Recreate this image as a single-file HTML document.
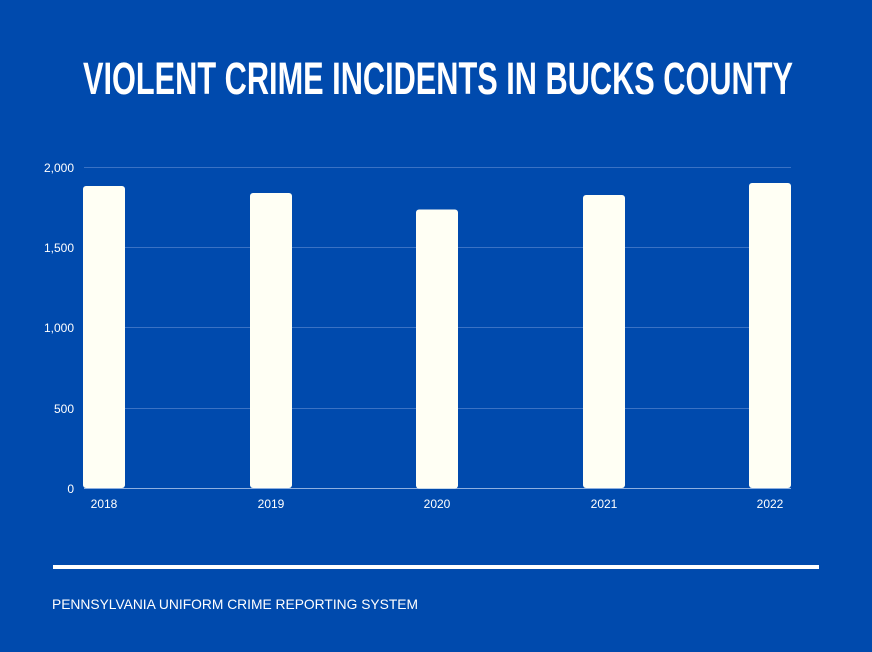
<!DOCTYPE html>
<html><head><style>
html,body{margin:0;padding:0;background:#004aad;}
</style></head><body>
<svg width="872" height="652" viewBox="0 0 872 652" xmlns="http://www.w3.org/2000/svg" style="display:block">
<rect width="872" height="652" fill="#004aad"/>
<text x="83" y="94" textLength="710" lengthAdjust="spacingAndGlyphs" font-family="Liberation Sans Narrow, Liberation Sans, sans-serif" font-weight="bold" font-size="45" fill="#fff">VIOLENT CRIME INCIDENTS IN BUCKS COUNTY</text>
<g stroke="#3a72c4" stroke-width="1">
<line x1="84" y1="167.5" x2="791" y2="167.5"/>
<line x1="84" y1="247.5" x2="791" y2="247.5"/>
<line x1="84" y1="327.5" x2="791" y2="327.5"/>
<line x1="84" y1="408.5" x2="791" y2="408.5"/>
</g>
<line x1="84" y1="488.5" x2="791" y2="488.5" stroke="#8fb0e0" stroke-width="1"/>
<g font-family="Liberation Sans, sans-serif" font-size="12" fill="#fff" text-anchor="end">
<text x="74" y="172">2,000</text>
<text x="74" y="252">1,500</text>
<text x="74" y="332">1,000</text>
<text x="74" y="413">500</text>
<text x="74" y="493">0</text>
</g>
<g fill="#fffff4">
<rect x="83" y="186" width="42" height="302" rx="3"/>
<rect x="250" y="193" width="42" height="295" rx="3"/>
<rect x="416" y="209.5" width="42" height="279" rx="3"/>
<rect x="583" y="195" width="42" height="293" rx="3"/>
<rect x="749" y="183" width="42" height="305" rx="3"/>
</g>
<g font-family="Liberation Sans, sans-serif" font-size="12" fill="#fff" text-anchor="middle">
<text x="104" y="508">2018</text>
<text x="271" y="508">2019</text>
<text x="437" y="508">2020</text>
<text x="604" y="508">2021</text>
<text x="770" y="508">2022</text>
</g>
<rect x="53" y="565" width="766" height="4" fill="#fff"/>
<text x="52" y="609" textLength="366" lengthAdjust="spacingAndGlyphs" font-family="Liberation Sans, sans-serif" font-size="14" fill="#fff">PENNSYLVANIA UNIFORM CRIME REPORTING SYSTEM</text>
</svg>
</body></html>
